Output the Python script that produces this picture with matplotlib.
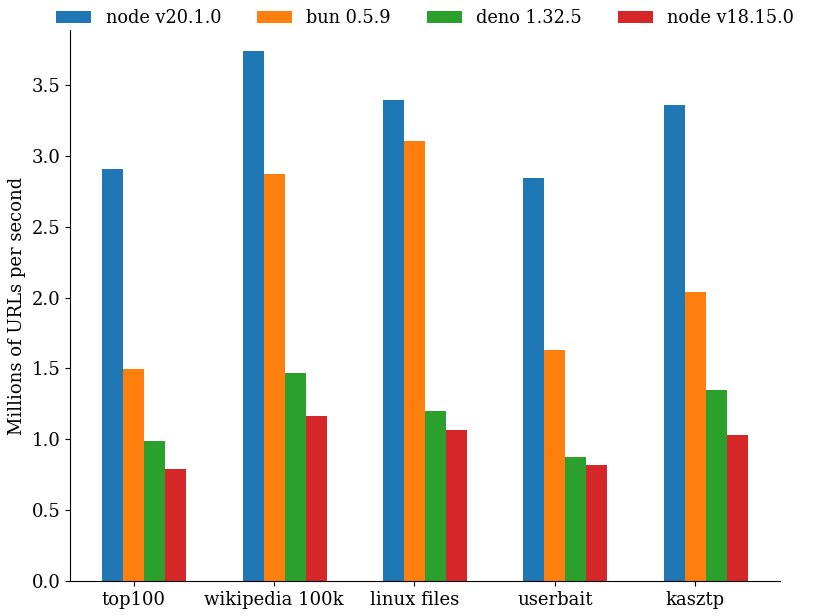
import matplotlib
matplotlib.use('Agg')
import matplotlib.pyplot as plt
import numpy as np

plt.rcParams['font.family'] = 'DejaVu Serif'

categories = ['top100', 'wikipedia 100k', 'linux files', 'userbait', 'kasztp']
runtimes = ['node v20.1.0', 'bun 0.5.9', 'deno 1.32.5', 'node v18.15.0']
node20 = [2.905, 3.742, 3.394, 2.842, 3.361]
bun = [1.496, 2.874, 3.105, 1.628, 2.039]
deno = [0.988, 1.468, 1.200, 0.877, 1.350]
node18 = [0.788, 1.162, 1.063, 0.816, 1.030]
colors = ['#1f77b4', '#ff7f0e', '#2ca02c', '#d62728']

fig = plt.figure(figsize=(8.22, 6.16), dpi=100)
ax = fig.add_axes([70 / 822, 35 / 616, 710 / 822, 551 / 616])

x = np.arange(len(categories))
width = 0.15
for k, (name, vals) in enumerate(zip(runtimes, [node20, bun, deno, node18])):
    ax.bar(x + (k - 1) * width, vals, width, label=name, color=colors[k])

ax.set_xticks(x)
ax.set_xticklabels(categories, fontsize=13)
ax.tick_params(axis='y', labelsize=13)
ax.set_ylim(0, 3.888)
ax.set_yticks(np.arange(0, 3.6, 0.5))
ax.set_ylabel('Millions of URLs per second', fontsize=13)
ax.spines['top'].set_visible(False)
ax.spines['right'].set_visible(False)

ax.legend(loc='center', bbox_to_anchor=(425 / 822, 1 - 18 / 616), bbox_transform=fig.transFigure,
          ncol=4, frameon=False, fontsize=12.8)

plt.savefig('out.png', dpi=100)
plt.close()
